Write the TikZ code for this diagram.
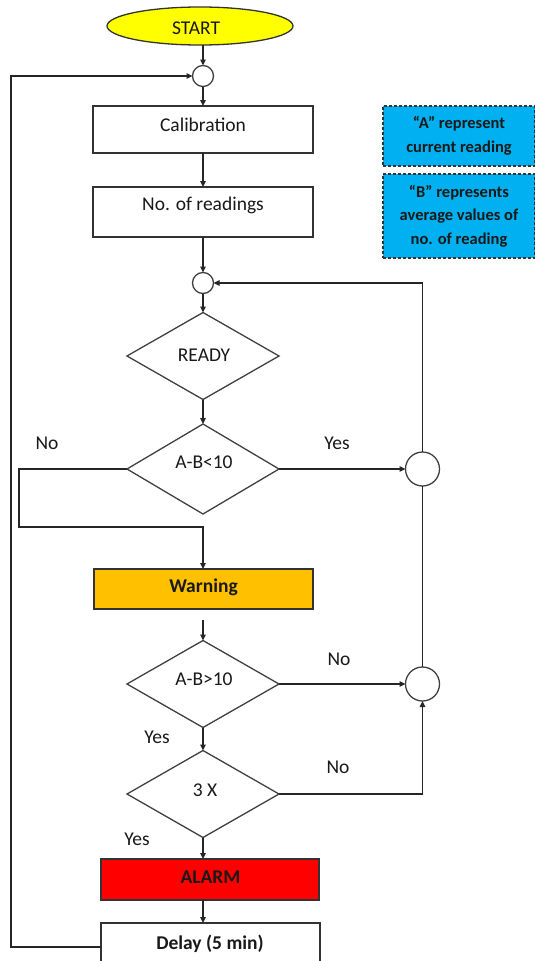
\documentclass[tikz,border=0pt]{standalone}
\usepackage{fontspec}
\setmainfont{Carlito}
\usetikzlibrary{shapes.geometric,arrows.meta}
\definecolor{startyellow}{HTML}{FFFF00}
\definecolor{warnorange}{HTML}{FFC000}
\definecolor{alarmred}{HTML}{FF0000}
\definecolor{noteblue}{HTML}{00B0F0}
\begin{document}
\begin{tikzpicture}[x=1pt,y=-1pt,
  every node/.style={inner sep=0pt, outer sep=0pt},
  txt/.style={font=\fontsize{19.5}{22}\selectfont, anchor=base, text=black!90},
  btxt/.style={font=\fontsize{19.5}{22}\selectfont\bfseries, anchor=base, text=black!90},
  boxst/.style={draw=black!80, line width=1.6pt, rectangle},
  diam/.style={draw=black!75, line width=1.3pt, diamond, minimum width=152pt, minimum height=87pt},
  junc/.style={draw=black!75, line width=1.3pt, circle, fill=white},
  conn/.style={draw=black!85, line width=1.3pt},
  arr/.style={conn, -{Triangle[length=6pt,width=5.5pt]}},
  note/.style={draw=black!80, dash pattern=on 3pt off 2pt, line width=1.4pt, fill=noteblue,
    minimum width=152pt, align=center, text=black!90,
    font=\fontsize{16.5}{23.5}\selectfont\bfseries}
]
\useasboundingbox (0,0) rectangle (535,961);
\clip (0,0) rectangle (535,961);
\fill[white] (0,0) rectangle (535,961);

% main column
\node[draw=black!80, line width=1.3pt, fill=startyellow, ellipse, minimum width=186pt, minimum height=38pt] (start) at (200,26) {};
\node[txt] (startt) at (196,34) {START};
\node[junc, minimum size=21pt] (j1) at (203,76) {};
\node[boxst, minimum width=220pt, minimum height=47pt] (cal) at (203,129.5) {};
\node[txt] (calt) at (203,131) {Calibration};
\node[boxst, minimum width=220pt, minimum height=50pt] (nr) at (203,212) {};
\node[txt] (nrt) at (203,210) {No. of readings};
\node[junc, minimum size=21pt] (j2) at (203,283) {};
\node[diam] (ready) at (203,356) {};
\node[txt] (readyt) at (204,361) {READY};
\node[diam, minimum height=90pt] (ab1) at (203,469) {};
\node[txt] (ab1t) at (204,468) {A-B<10};
\node[junc, minimum size=34pt] (j3) at (422.5,469) {};
\node[boxst, fill=warnorange, minimum width=219pt, minimum height=40pt] (warn) at (203.5,589) {};
\node[btxt] (warnt) at (203.5,592) {Warning};
\coordinate (wgap) at (203,620);
\node[diam] (ab2) at (203,684) {};
\node[txt] (ab2t) at (204,685) {A-B>10};
\node[junc, minimum size=34pt] (j4) at (422.5,684) {};
\node[diam] (x3) at (203,794) {};
\node[txt] (x3t) at (205,796) {3 X};
\node[boxst, fill=alarmred, minimum width=218pt, minimum height=41pt] (alarm) at (210,879.5) {};
\node[btxt] (alarmt) at (210.5,883) {ALARM};
\node[boxst, minimum width=219pt, minimum height=48pt] (delay) at (210.5,947) {};
\node[btxt] (delayt) at (210,949) {Delay (5 min)};

% notes
\node[note, minimum height=60pt] (noteA) at (459,136) {“A” represent\\current reading};
\node[note, minimum height=84pt] (noteB) at (459,216) {“B” represents\\average values of\\no. of reading};

% labels
\node[txt] (l1) at (47,449) {No};
\node[txt] (l2) at (337,449) {Yes};
\node[txt] (l3) at (339,665) {No};
\node[txt] (l4) at (157,743) {Yes};
\node[txt] (l5) at (338,773) {No};
\node[txt] (l6) at (137,845) {Yes};

% connectors
\coordinate (nl1) at (19,469);
\coordinate (nl2) at (19,527);
\coordinate (lp) at (11,947);
\draw[arr] (start.south -| j1) -- (j1.north);
\draw[arr] (j1) -- (cal);
\draw[arr] (cal) -- (nr);
\draw[arr] (nr) -- (j2);
\draw[arr] (j2) -- (ready);
\draw[arr] (ready) -- (ab1);
\draw[arr] (ab1) -- (j3);
\draw[arr] (j3.north) |- (j2.east);
\draw[arr] (ab1.west) -- (nl1) -- (nl2) -- (nl2 -| ab1.south) -- (ab1.south |- warn.north);
\draw[arr] (wgap) -- (ab2.north);
\draw[arr] (ab2) -- (j4);
\draw[conn] (j4) -- (j3);
\draw[arr] (ab2) -- (x3);
\draw[arr] (x3.east) -| (j4.south);
\draw[arr] (x3.south) -- (x3.south |- alarm.north);
\draw[arr] (x3.south |- alarm.south) -- (x3.south |- delay.north);
\draw[arr] (delay.west |- lp) -- (lp) |- (j1.west);
\end{tikzpicture}
\end{document}
